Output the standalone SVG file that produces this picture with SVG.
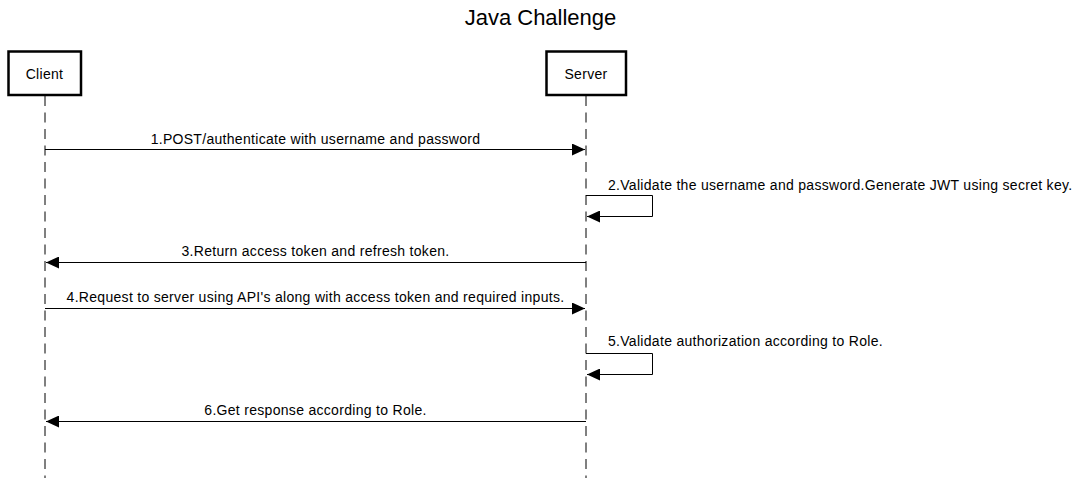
<svg xmlns="http://www.w3.org/2000/svg" width="1081" height="478" viewBox="0 0 1081 478">
<style>
text{font-family:"Liberation Sans",Arial,sans-serif;fill:#000}
.lbl{font-size:14px;letter-spacing:0.3px}
.box{fill:#fff;stroke:#000;stroke-width:2.5}
.life{stroke:#000;stroke-width:1;stroke-dasharray:10 6.5;fill:none}
.msg{stroke:#000;stroke-width:1;fill:none}
</style>
<defs>
<marker id="ah" viewBox="0 0 13 12" refX="13" refY="6" markerWidth="13" markerHeight="12" markerUnits="userSpaceOnUse" orient="auto">
<path d="M0,0 L13,6 L0,12 Z" fill="#000"/>
</marker>
</defs>
<rect width="1081" height="478" fill="#fff"/>
<text x="540.5" y="25" font-size="22" text-anchor="middle">Java Challenge</text>
<g id="client">
<line class="life" x1="45" y1="96" x2="45" y2="478"/>
<rect class="box" x="8.5" y="51.5" width="72.5" height="43.5"/>
<text class="lbl" x="44.5" y="78.5" text-anchor="middle">Client</text>
</g>
<g id="server">
<line class="life" x1="586" y1="96" x2="586" y2="478"/>
<rect class="box" x="546.5" y="51.5" width="79.5" height="43.5"/>
<text class="lbl" x="586" y="78.5" text-anchor="middle">Server</text>
</g>
<g id="connectors">
<line class="msg" x1="45" y1="149.5" x2="585" y2="149.5" marker-end="url(#ah)"/>
<text class="lbl" x="315.5" y="143.5" text-anchor="middle">1.POST/authenticate with username and password</text>
<polyline class="msg" points="586,195.5 652.5,195.5 652.5,216.5 587,216.5" marker-end="url(#ah)"/>
<text class="lbl" x="608" y="190">2.Validate the username and password.Generate JWT using secret key.</text>
<line class="msg" x1="586" y1="262.5" x2="46" y2="262.5" marker-end="url(#ah)"/>
<text class="lbl" x="315.5" y="256" text-anchor="middle">3.Return access token and refresh token.</text>
<line class="msg" x1="45" y1="308.5" x2="585" y2="308.5" marker-end="url(#ah)"/>
<text class="lbl" x="315.5" y="302" text-anchor="middle">4.Request to server using API's along with access token and required inputs.</text>
<polyline class="msg" points="586,353.5 652.5,353.5 652.5,374.5 587,374.5" marker-end="url(#ah)"/>
<text class="lbl" x="608" y="346">5.Validate authorization according to Role.</text>
<line class="msg" x1="586" y1="421.5" x2="46" y2="421.5" marker-end="url(#ah)"/>
<text class="lbl" x="315.5" y="415" text-anchor="middle">6.Get response according to Role.</text>
</g>
</svg>
